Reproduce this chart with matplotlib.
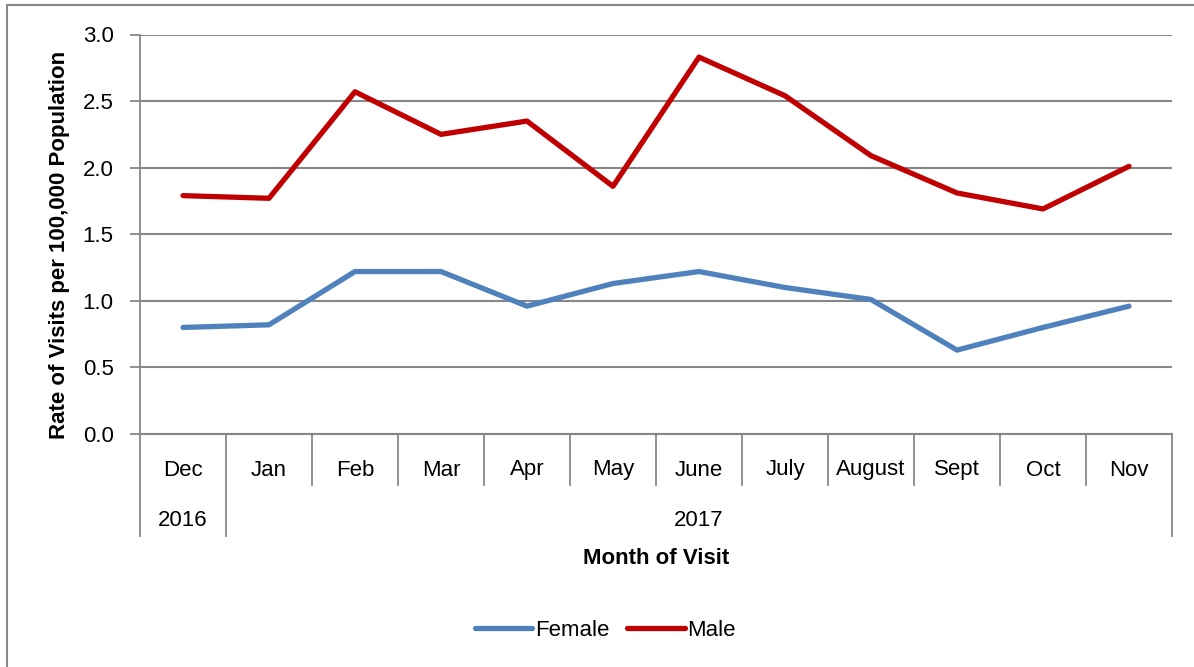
import matplotlib.pyplot as plt
import matplotlib.transforms as mtransforms
from matplotlib.lines import Line2D
from matplotlib.patches import Rectangle

months = ["Dec", "Jan", "Feb", "Mar", "Apr", "May", "June", "July",
          "August", "Sept", "Oct", "Nov"]
years = ["2016", "2017"]
year_spans = [(0, 0), (1, 11)]  # first and last month index of each year
female = [0.80, 0.82, 1.22, 1.22, 0.96, 1.13, 1.22, 1.10, 1.01, 0.63, 0.80, 0.96]
male = [1.79, 1.77, 2.57, 2.25, 2.35, 1.86, 2.83, 2.54, 2.09, 1.81, 1.69, 2.01]

plt.rcParams["font.family"] = ["Liberation Sans", "DejaVu Sans"]
grid_c = "#878787"
blue = "#4F81BD"
red = "#C00000"
fs = 16

fig = plt.figure(figsize=(11.94, 6.67), dpi=100)
ax = fig.add_axes([140 / 1194, 1 - 434 / 667, (1172 - 140) / 1194, (434 - 34.5) / 667])

x = list(range(len(months)))
ax.plot(x, female, color=blue, linewidth=3.8, solid_capstyle="round", label="Female")
ax.plot(x, male, color=red, linewidth=3.8, solid_capstyle="round", label="Male")

ax.set_xlim(-0.5, len(months) - 0.5)
ax.set_ylim(0, 3.0)
ax.set_yticks([0, 0.5, 1.0, 1.5, 2.0, 2.5, 3.0])
ax.set_yticklabels([f"{v:.1f}" for v in ax.get_yticks()], fontsize=fs)
ax.tick_params(axis="y", length=7, width=1.3, color=grid_c, pad=12)
ax.set_xticks([])
ax.grid(axis="y", color=grid_c, linewidth=1.5)
ax.set_axisbelow(True)
for s in ["top", "right"]:
  ax.spines[s].set_visible(False)
ax.spines["left"].set_color(grid_c)
ax.spines["left"].set_linewidth(1.3)
ax.spines["bottom"].set_color(grid_c)
ax.spines["bottom"].set_linewidth(1.5)

# Category separators below the axis (month row and year row)
trans = mtransforms.blended_transform_factory(ax.transData, ax.transAxes)
month_low = -51 / 399.5
year_low = -102 / 399.5
year_edges = [-0.5] + [end + 0.5 for _, end in year_spans]
for i in range(len(months) + 1):
  xe = i - 0.5
  low = year_low if xe in year_edges else month_low
  ax.add_line(Line2D([xe, xe], [0, low], transform=trans, color=grid_c,
                     linewidth=1.3, clip_on=False))

for i, m in enumerate(months):
  ax.text(i, -36 / 399.5, m, transform=trans, ha="center", va="center", fontsize=fs)
for yr, (a, b) in zip(years, year_spans):
  ax.text((a + b) / 2, -86 / 399.5, yr, transform=trans, ha="center", va="center",
          fontsize=fs)

fig.text(656 / 1194, 1 - 558 / 667, "Month of Visit", ha="center", va="center",
         fontsize=fs, fontweight="bold")
fig.text(60 / 1194, 1 - 245 / 667, "Rate of Visits per 100,000 Population", ha="center",
         va="center", rotation=90, fontsize=fs, fontweight="bold")

fig.legend(loc="center", bbox_to_anchor=(605 / 1194, 1 - 630 / 667), ncol=2,
           frameon=False, fontsize=fs, handlelength=2.6, handletextpad=0.1,
           columnspacing=0.8)

# outer chart border
fig.add_artist(Rectangle((7 / 1194, -0.01), 1.1, 1 - 5 / 667 + 0.01, transform=fig.transFigure,
                         fill=False, edgecolor=grid_c, linewidth=1.5))

fig.savefig("out.png", dpi=100)
